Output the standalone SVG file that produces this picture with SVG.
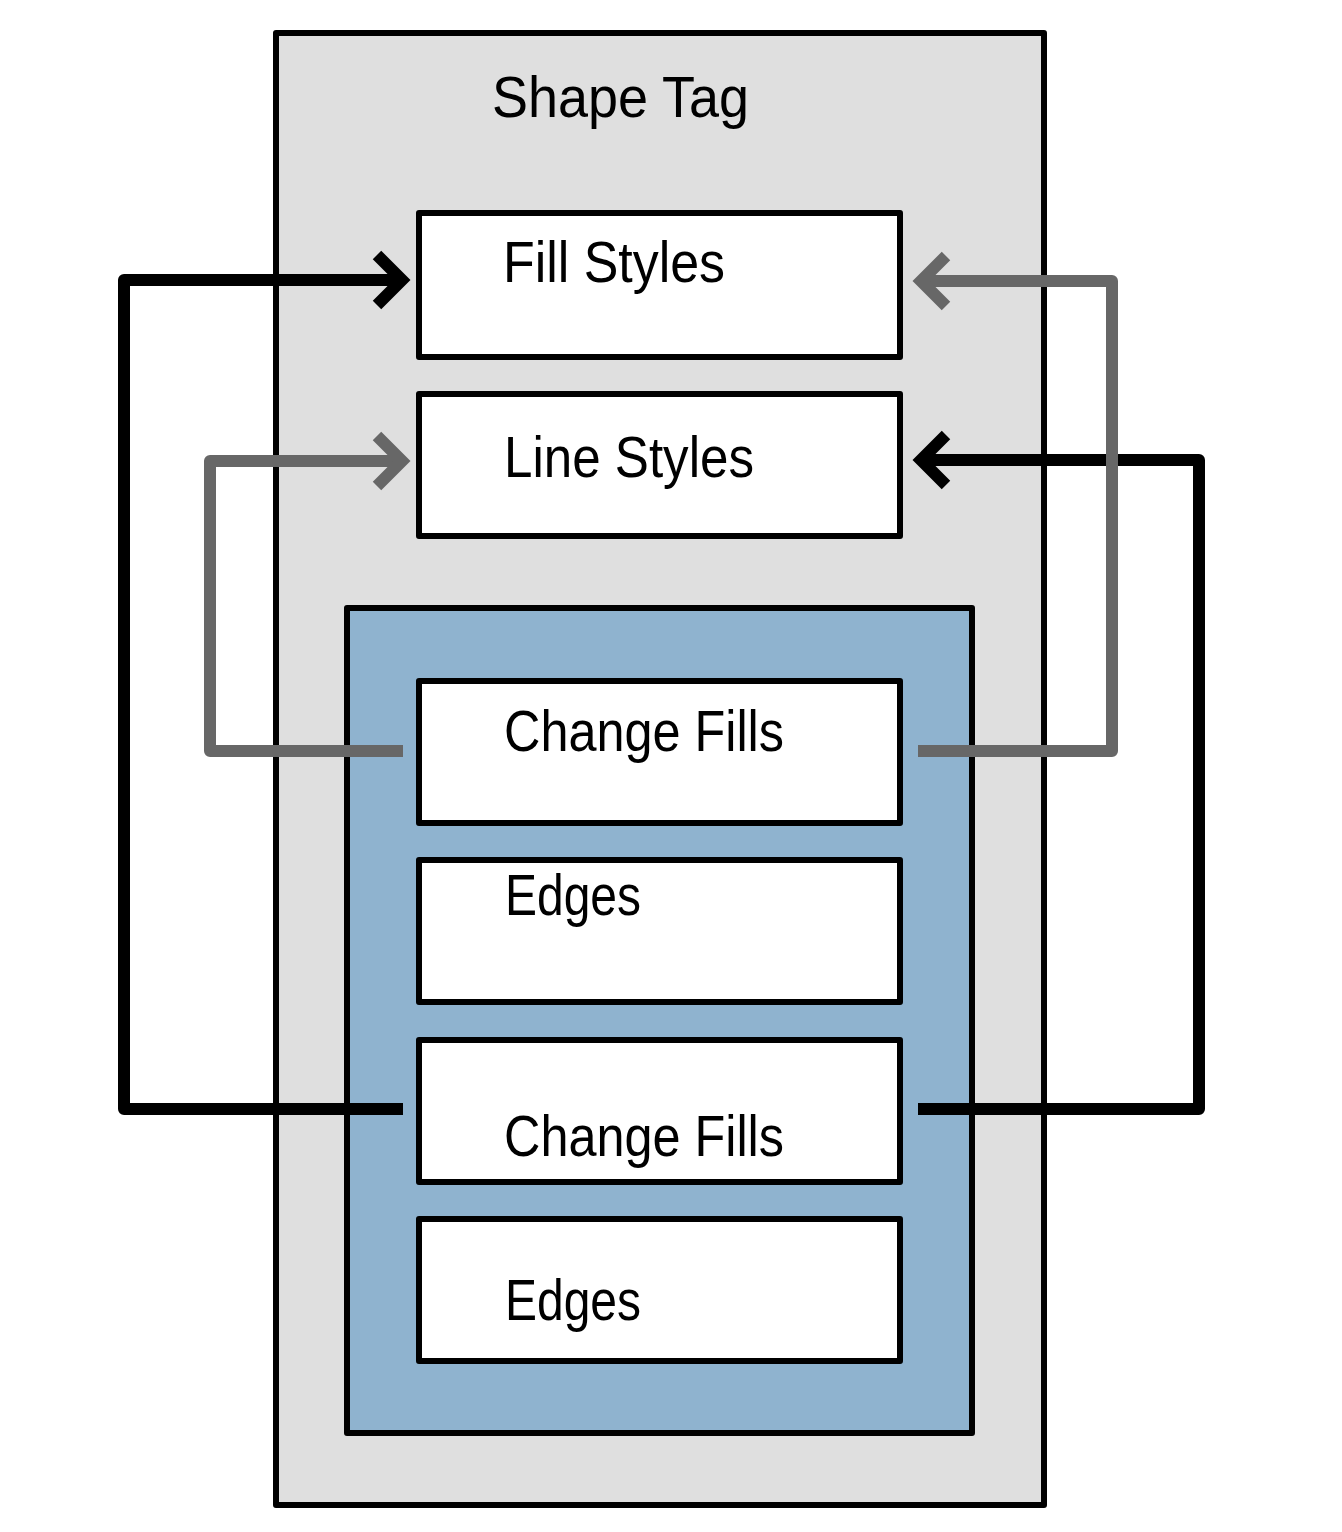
<svg xmlns="http://www.w3.org/2000/svg" width="1342" height="1532" viewBox="0 0 1342 1532">
<style>
.frame{stroke:#000;stroke-width:6;stroke-linejoin:round}
.box{fill:#fff;stroke:#000;stroke-width:6;stroke-linejoin:round}
.lbl{font-family:"Liberation Sans",Arial,sans-serif;font-size:52px;fill:#000}
.con{fill:none;stroke-width:12;stroke-linejoin:round}
.head{fill:none;stroke-width:12;stroke-linejoin:miter;stroke-miterlimit:10}
.blk{stroke:#000}
.gry{stroke:#676767}
</style>
<rect width="1342" height="1532" fill="#fff"/>
<g id="shape-tag">
<rect class="frame" x="276" y="33" width="768" height="1472" fill="#dfdfdf"/>
<text class="lbl" transform="translate(492,117) scale(1,1.12)" textLength="257" lengthAdjust="spacingAndGlyphs">Shape Tag</text>
</g>
<g id="records">
<rect class="frame" x="347" y="608" width="625" height="825" fill="#8fb3cf"/>
</g>
<g id="connectors">
<path class="con blk" d="M403,1109 H124 V280 H400"/>
<polyline class="head blk" points="377,255 402,280 377,305"/>
<path class="con blk" d="M918,1109 H1199 V460 H923"/>
<polyline class="head blk" points="946,435 921,460 946,485"/>
<path class="con gry" d="M403,751 H210 V461 H400"/>
<polyline class="head gry" points="377,436 402,461 377,486"/>
<path class="con gry" d="M918,751 H1112 V281 H923"/>
<polyline class="head gry" points="946,256 921,281 946,306"/>
</g>
<g id="fill-styles">
<rect class="box" x="419" y="213" width="481" height="144"/>
<text class="lbl" transform="translate(503,282) scale(1,1.12)" textLength="222" lengthAdjust="spacingAndGlyphs">Fill Styles</text>
</g>
<g id="line-styles">
<rect class="box" x="419" y="394" width="481" height="142"/>
<text class="lbl" transform="translate(504,477) scale(1,1.12)" textLength="250" lengthAdjust="spacingAndGlyphs">Line Styles</text>
</g>
<g id="change-fills-1">
<rect class="box" x="419" y="681" width="481" height="142"/>
<text class="lbl" transform="translate(504,751) scale(1,1.12)" textLength="280" lengthAdjust="spacingAndGlyphs">Change Fills</text>
</g>
<g id="edges-1">
<rect class="box" x="419" y="860" width="481" height="142"/>
<text class="lbl" transform="translate(505,915) scale(1,1.12)" textLength="136" lengthAdjust="spacingAndGlyphs">Edges</text>
</g>
<g id="change-fills-2">
<rect class="box" x="419" y="1040" width="481" height="142"/>
<text class="lbl" transform="translate(504,1156) scale(1,1.12)" textLength="280" lengthAdjust="spacingAndGlyphs">Change Fills</text>
</g>
<g id="edges-2">
<rect class="box" x="419" y="1219" width="481" height="142"/>
<text class="lbl" transform="translate(505,1320) scale(1,1.12)" textLength="136" lengthAdjust="spacingAndGlyphs">Edges</text>
</g>
</svg>
